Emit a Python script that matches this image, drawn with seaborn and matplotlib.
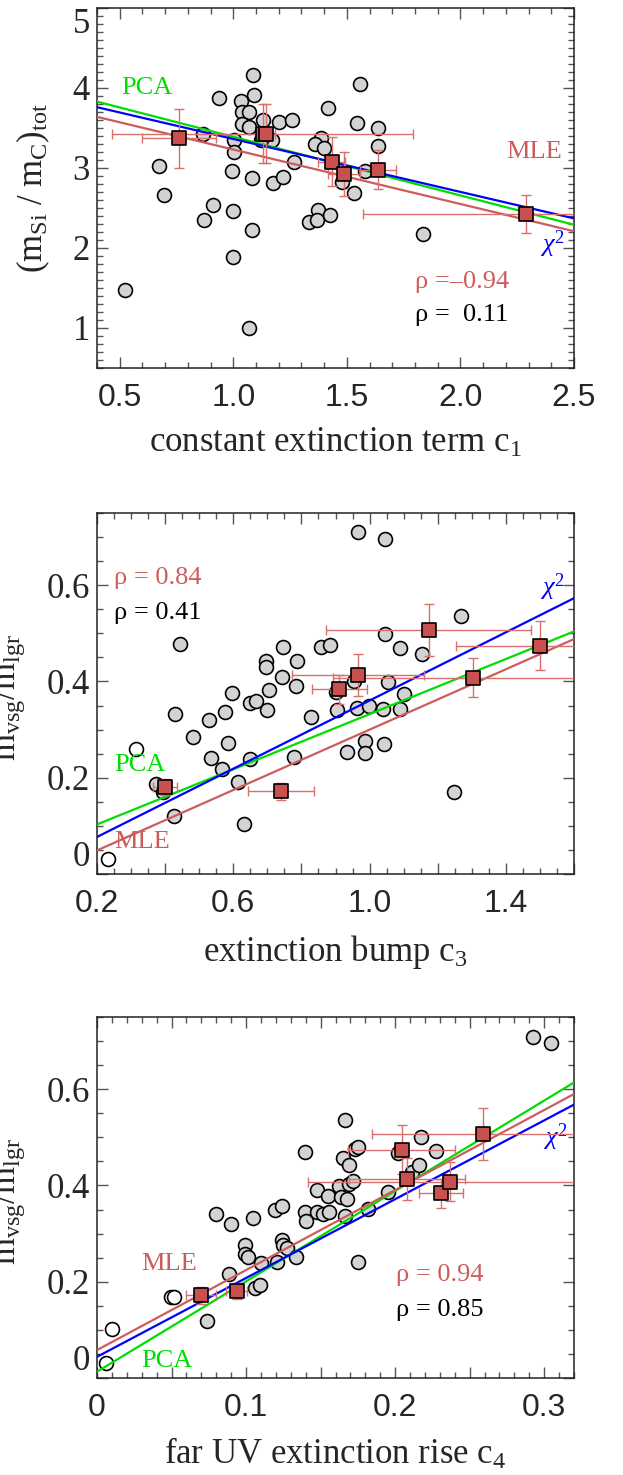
import numpy as np
import matplotlib
matplotlib.use("Agg")
import matplotlib.pyplot as plt
import seaborn as sns
from matplotlib.ticker import MultipleLocator, FuncFormatter

# ---------------- data ----------------
# Panel 1: (m_Si/m_C)_tot vs c1
p1_cx = [0.522, 0.674, 0.695, 0.868, 0.871, 0.912, 0.937, 0.993, 1.0, 1.0, 1.003, 1.003,
         1.034, 1.04, 1.07, 1.037, 1.07, 1.086, 1.093, 1.083, 1.084, 1.067, 1.133, 1.20,
         1.26, 1.174, 1.218, 1.268, 1.17, 1.12, 1.415, 1.387, 1.36, 1.40, 1.372, 1.335,
         1.368, 1.426, 1.556, 1.544, 1.635, 1.635, 1.58, 1.48, 1.533, 1.835]
p1_cy = [1.48, 3.03, 2.66, 3.42, 2.35, 2.54, 3.87, 2.96, 2.46, 1.89, 3.35, 3.20,
         3.84, 3.70, 3.70, 3.55, 3.51, 4.16, 3.91, 2.88, 2.22, 1.00, 3.60, 3.57,
         3.60, 2.81, 2.89, 3.08, 3.35, 3.35, 3.75, 3.38, 3.30, 3.25, 2.47, 2.32,
         2.35, 2.41, 4.05, 3.56, 3.50, 3.27, 2.96, 2.83, 2.69, 2.17]
p1_sx = [0.761, 1.13, 1.145, 1.434, 1.488, 1.636, 2.287]
p1_sy = [3.37, 3.43, 3.43, 3.08, 2.925, 2.98, 2.425]
p1_sxe = [0.163, 0.663, 0.04, 0.06, 0.07, 0.08, 0.714]
p1_sye = [0.37, 0.37, 0.37, 0.31, 0.28, 0.24, 0.24]
# fits: (slope, intercept)
p1_fit_pca = (-0.733, 4.123)
p1_fit_chi = (-0.662, 4.025)
p1_fit_mle = (-0.681, 3.912)

# Panel 2: m_vsg/m_lgr vs c3
p2_ox = [0.233, 0.314]
p2_oy = [0.032, 0.259]
p2_cx = [0.374, 0.393, 0.425, 0.429, 0.445, 0.481, 0.530, 0.536, 0.568, 0.575, 0.585,
         0.597, 0.613, 0.632, 0.648, 0.649, 0.668, 0.696, 0.697, 0.700, 0.705, 0.743,
         0.747, 0.778, 0.785, 0.787, 0.828, 0.858, 0.883, 0.901, 0.904, 0.933, 0.954,
         0.962, 0.965, 0.988, 0.988, 0.999, 1.040, 1.041, 1.044, 1.046, 1.055, 1.088,
         1.088, 1.101, 1.153, 1.248, 1.267]
p2_cy = [0.188, 0.170, 0.120, 0.333, 0.478, 0.284, 0.320, 0.241, 0.218, 0.336, 0.273,
         0.376, 0.192, 0.103, 0.239, 0.355, 0.359, 0.443, 0.431, 0.340, 0.383, 0.409,
         0.471, 0.243, 0.391, 0.443, 0.326, 0.471, 0.476, 0.378, 0.340, 0.253, 0.400,
         0.344, 0.710, 0.277, 0.251, 0.350, 0.343, 0.270, 0.498, 0.697, 0.398, 0.469,
         0.343, 0.373, 0.457, 0.170, 0.535]
sq_y = [0.181, 0.172, 0.384, 0.413, 0.507, 0.408, 0.474]
sq_ye = [0.017, 0.018, 0.030, 0.044, 0.054, 0.041, 0.051]
p2_sx = [0.40, 0.739, 0.911, 0.966, 1.173, 1.305, 1.50]
p2_sxe = [0.035, 0.097, 0.081, 0.193, 0.301, 0.412, 0.246]
p2_fit_pca = (0.2864, 0.0457)
p2_fit_chi = (0.3543, 0.0061)
p2_fit_mle = (0.3136, -0.0137)

# Panel 3: m_vsg/m_lgr vs c4
p3_ox = [0.0061, 0.0099, 0.0499, 0.0515]
p3_oy = [0.032, 0.101, 0.169, 0.169]
p3_cx = [0.0736, 0.0795, 0.0883, 0.0896, 0.0995, 0.0995, 0.101, 0.1048, 0.1061, 0.1096,
         0.110, 0.1195, 0.1208, 0.1243, 0.124, 0.1248, 0.1275, 0.1336, 0.1395, 0.1395,
         0.140, 0.1475, 0.1475, 0.1515, 0.155, 0.1555, 0.1621, 0.1635, 0.165, 0.1667,
         0.1667, 0.1675, 0.1688, 0.1693, 0.1715, 0.1733, 0.1749, 0.1749, 0.1821, 0.1949,
         0.2021, 0.2115, 0.2163, 0.2176, 0.2275, 0.2923, 0.3048]
p3_cy = [0.118, 0.340, 0.217, 0.320, 0.277, 0.257, 0.251, 0.333, 0.188, 0.194,
         0.238, 0.350, 0.241, 0.358, 0.286, 0.277, 0.270, 0.251, 0.469, 0.344,
         0.327, 0.391, 0.345, 0.341, 0.378, 0.344, 0.398, 0.376, 0.457, 0.535,
         0.337, 0.372, 0.442, 0.404, 0.409, 0.476, 0.479, 0.241, 0.351, 0.386,
         0.467, 0.429, 0.443, 0.500, 0.471, 0.709, 0.697]
p3_sx = [0.0936, 0.0696, 0.2308, 0.208, 0.2592, 0.2368, 0.2044]
p3_sxe = [0.007, 0.010, 0.015, 0.039, 0.075, 0.095, 0.036]
p3_fit_pca = (1.878, 0.013)
p3_fit_chi = (1.6375, 0.044)
p3_fit_mle = (1.6625, 0.058)

# ---------------- style ----------------
sns.set_style("ticks")
plt.rcParams["font.family"] = ["Liberation Serif", "DejaVu Serif"]
plt.rcParams["mathtext.fontset"] = "custom"
plt.rcParams["mathtext.rm"] = "Liberation Serif"
plt.rcParams["mathtext.it"] = "Liberation Serif:italic"
plt.rcParams["mathtext.bf"] = "Liberation Serif:bold"

RED = "#CD5C5C"
SQ = "#C8504E"
EBAR = "#D8706E"
GREEN = "#00DD00"
BLUE = "#0000FF"
GRAY = "#D3D3D3"

fig = plt.figure(figsize=(6.23, 14.75), dpi=100)
W, H = 623.0, 1475.0
def add_ax(top, bottom):
    return fig.add_axes([97 / W, 1 - bottom / H, 477 / W, (bottom - top) / H])

ax1 = add_ax(8, 368)
ax2 = add_ax(513, 874)
ax3 = add_ax(1017, 1378)


def draw(ax, cx, cy, ox, oy, sx, sy, sxe, sye, fits, xlim, ylim):
    ax.set_xlim(*xlim)
    ax.set_ylim(*ylim)
    sns.scatterplot(x=cx, y=cy, ax=ax, s=100, color=GRAY, edgecolor="black",
                    linewidth=1.2, zorder=2, legend=False)
    if ox:
        sns.scatterplot(x=ox, y=oy, ax=ax, s=100, color="white", edgecolor="black",
                        linewidth=1.2, zorder=2, legend=False)
    xs = np.array(xlim, dtype=float)
    for (m, b), col in fits:
        sns.lineplot(x=xs, y=m * xs + b, ax=ax, color=col, linewidth=1.6, zorder=3)
    ax.errorbar(sx, sy, xerr=sxe, yerr=sye, fmt="none", ecolor=EBAR,
                elinewidth=1.0, capsize=3.5, capthick=1.0, zorder=4)
    sns.scatterplot(x=sx, y=sy, ax=ax, marker="s", s=95, color=SQ, edgecolor="black",
                    linewidth=1.2, zorder=5, legend=False)
    ax.set_xlim(*xlim)
    ax.set_ylim(*ylim)
    ax.tick_params(which="both", direction="in", top=True, right=True,
                   color="#555555", width=1.0)
    ax.tick_params(which="major", length=8)
    ax.tick_params(which="minor", length=4)
    ax.tick_params(axis="x", which="major", labelsize=23,
                   labelfontfamily="Liberation Sans", pad=11)
    ax.tick_params(axis="y", which="major", labelsize=25, pad=5)
    for sp in ax.spines.values():
        sp.set_color("#222222")
        sp.set_linewidth(1.1)


draw(ax1, p1_cx, p1_cy, [], [], p1_sx, p1_sy, p1_sxe, p1_sye,
     [(p1_fit_pca, GREEN), (p1_fit_chi, BLUE), (p1_fit_mle, RED)], (0.4, 2.5), (0.5, 5.0))
draw(ax2, p2_cx, p2_cy, p2_ox, p2_oy, p2_sx, sq_y, p2_sxe, sq_ye,
     [(p2_fit_pca, GREEN), (p2_fit_chi, BLUE), (p2_fit_mle, RED)], (0.2, 1.6), (0.0, 0.75))
draw(ax3, p3_cx, p3_cy, p3_ox, p3_oy, p3_sx, sq_y, p3_sxe, sq_ye,
     [(p3_fit_pca, GREEN), (p3_fit_chi, BLUE), (p3_fit_mle, RED)], (0.0, 0.32), (0.0, 0.75))

# ticks
ax1.xaxis.set_major_locator(MultipleLocator(0.5))
ax1.xaxis.set_minor_locator(MultipleLocator(0.1))
ax1.xaxis.set_major_formatter(FuncFormatter(lambda v, p: "%.1f" % v))
ax1.yaxis.set_major_locator(MultipleLocator(1))
ax1.yaxis.set_minor_locator(MultipleLocator(0.1))
ax1.yaxis.set_major_formatter(FuncFormatter(lambda v, p: "%d" % round(v)))


def yfmt(v, p):
    return "0" if abs(v) < 1e-9 else "%.1f" % v


def x2fmt(v, p):
    k = (v - 0.2) / 0.4
    return "%.1f" % v if abs(k - round(k)) < 1e-6 else ""


def x3fmt(v, p):
    k = v / 0.1
    if abs(k - round(k)) > 1e-6:
        return ""
    return "0" if abs(v) < 1e-9 else "%.1f" % v


for ax in (ax2, ax3):
    ax.yaxis.set_major_locator(MultipleLocator(0.2))
    ax.yaxis.set_minor_locator(MultipleLocator(0.05))
    ax.yaxis.set_major_formatter(FuncFormatter(yfmt))
ax2.xaxis.set_major_locator(MultipleLocator(0.2))
ax2.xaxis.set_minor_locator(MultipleLocator(0.05))
ax2.xaxis.set_major_formatter(FuncFormatter(x2fmt))
ax3.xaxis.set_major_locator(MultipleLocator(0.05))
ax3.xaxis.set_minor_locator(MultipleLocator(0.01))
ax3.xaxis.set_major_formatter(FuncFormatter(x3fmt))

# labels
ax1.set_xlabel(r"constant extinction term $\mathrm{c_{1}}$", fontsize=25, labelpad=10)
ax2.set_xlabel(r"extinction bump $\mathrm{c_{3}}$", fontsize=25, labelpad=10)
ax3.set_xlabel(r"far UV extinction rise $\mathrm{c_{4}}$", fontsize=25, labelpad=10)
ax1.set_ylabel(r"$\mathrm{(m_{Si}\ /\ m_{C})_{tot}}$", fontsize=25)
ax1.yaxis.set_label_coords(-0.094, 0.5)
for ax in (ax2, ax3):
    ax.set_ylabel(r"$\mathrm{m_{vsg}/m_{lgr}}$", fontsize=25)
    ax.yaxis.set_label_coords(-0.147, 0.49)

# annotations
TS = 19
ax1.text(0.506, 4.0, "PCA", color=GREEN, fontsize=TS, ha="left", va="center")
ax1.text(2.20, 3.2, "MLE", color=RED, fontsize=TS, ha="left", va="center")
ax1.text(2.35, 2.05, r"$\chi^{2}$", color=BLUE, fontsize=TS, ha="left", va="center")
ax1.text(1.80, 1.57, "\u03c1 =\u20130.94", color=RED, fontsize=TS, ha="left", va="center")
ax1.text(1.80, 1.16, "\u03c1 =  0.11", color="black", fontsize=TS, ha="left", va="center")

ax2.text(0.25, 0.615, "\u03c1 = 0.84", color=RED, fontsize=TS, ha="left", va="center")
ax2.text(0.25, 0.543, "\u03c1 = 0.41", color="black", fontsize=TS, ha="left", va="center")
ax2.text(0.25, 0.226, "PCA", color=GREEN, fontsize=TS, ha="left", va="center")
ax2.text(0.25, 0.067, "MLE", color=RED, fontsize=TS, ha="left", va="center")
ax2.text(1.50, 0.595, r"$\chi^{2}$", color=BLUE, fontsize=TS, ha="left", va="center")

ax3.text(0.030, 0.236, "MLE", color=RED, fontsize=TS, ha="left", va="center")
ax3.text(0.030, 0.036, "PCA", color=GREEN, fontsize=TS, ha="left", va="center")
ax3.text(0.2995, 0.50, r"$\chi^{2}$", color=BLUE, fontsize=TS, ha="left", va="center")
ax3.text(0.2008, 0.213, "\u03c1 = 0.94", color=RED, fontsize=TS, ha="left", va="center")
ax3.text(0.2008, 0.141, "\u03c1 = 0.85", color="black", fontsize=TS, ha="left", va="center")

# keep end tick labels inside the axes range (as in the reference)
fig.canvas.draw()
for tick in ax1.yaxis.get_major_ticks():
    if abs(tick.get_loc() - 5.0) < 1e-6:
        tick.label1.set_va("top")
for ax in (ax2, ax3):
    for tick in ax.yaxis.get_major_ticks():
        if abs(tick.get_loc()) < 1e-6:
            tick.label1.set_va("bottom")

fig.savefig("out.png", dpi=100)
